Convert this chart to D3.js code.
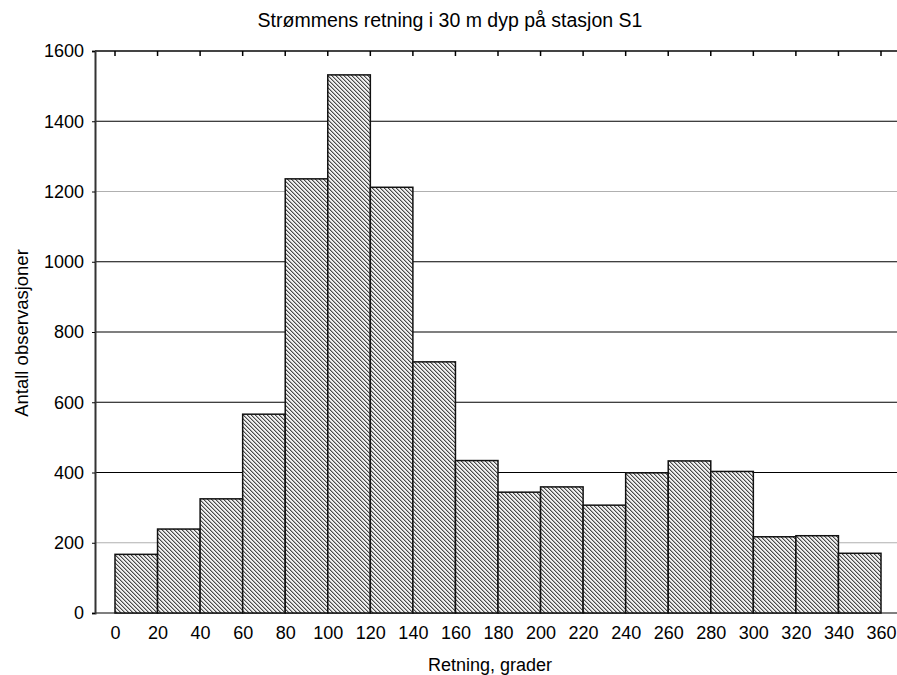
<!DOCTYPE html>
<html>
<head>
<meta charset="utf-8">
<script src="https://cdn.jsdelivr.net/npm/d3@7"></script>
<style>
  html, body { margin: 0; padding: 0; background: #fff; }
  svg { display: block; font-family: "Liberation Sans", Arial, sans-serif; }
</style>
</head>
<body>
<svg id="chart" width="897" height="675"></svg>
<script>
// Direction bins (degrees) and observation counts per 20° bin
const binStarts = [0, 20, 40, 60, 80, 100, 120, 140, 160, 180, 200, 220, 240, 260, 280, 300, 320, 340];
const counts = [167, 239, 325, 566, 1236, 1532, 1212, 715, 434, 344, 359, 307, 399, 433, 403, 217, 220, 170];
const binWidth = 20;
const xTicks = d3.range(0, 361, 20);
const yTicks = [0, 200, 400, 600, 800, 1000, 1200, 1400, 1600];
const lightGrid = [200, 1200];

const titleText = "Strømmens retning i 30 m dyp på stasjon S1";
const xLabel = "Retning, grader";
const yLabel = "Antall observasjoner";

const svg = d3.select("#chart");
const frame = { left: 95, right: 897, top: 51, bottom: 613 };
const fontFamily = "Liberation Sans, Arial, sans-serif";

const x = d3.scaleLinear().domain([0, 360]).range([115, 881]);
const y = d3.scaleLinear().domain([0, 1600]).range([frame.bottom, frame.top]);

// Fine diagonal hatch fill for the bars
const defs = svg.append("defs");
const pat = defs.append("pattern")
  .attr("id", "hatch")
  .attr("patternUnits", "userSpaceOnUse")
  .attr("width", 4).attr("height", 4);
pat.append("rect").attr("width", 4).attr("height", 4).attr("fill", "#f0f0f0");
for (let i = 0; i < 4; i++) {
  pat.append("rect").attr("x", i).attr("y", i).attr("width", 1).attr("height", 1).attr("fill", "#4a4a4a");
  pat.append("rect").attr("x", (i + 1) % 4).attr("y", i).attr("width", 1).attr("height", 1).attr("fill", "#ababab");
}

// Horizontal grid lines
svg.append("g")
  .selectAll("line")
  .data(yTicks.filter(v => v > 0 && v < 1600))
  .join("line")
  .attr("x1", frame.left).attr("x2", frame.right)
  .attr("y1", d => y(d)).attr("y2", d => y(d))
  .attr("stroke", d => lightGrid.includes(d) ? "#b0b0b0" : "#000")
  .attr("stroke-width", 1.2);

// Bottom and top frame lines
svg.append("line")
  .attr("x1", frame.left).attr("x2", frame.right)
  .attr("y1", frame.bottom).attr("y2", frame.bottom)
  .attr("stroke", "#555").attr("stroke-width", 1.5);
svg.append("line")
  .attr("x1", frame.left).attr("x2", frame.right)
  .attr("y1", frame.top).attr("y2", frame.top)
  .attr("stroke", "#444").attr("stroke-width", 2);

// Inward ticks along the top edge
svg.append("g")
  .selectAll("line")
  .data(xTicks)
  .join("line")
  .attr("x1", d => x(d)).attr("x2", d => x(d))
  .attr("y1", frame.top).attr("y2", frame.top + 5)
  .attr("stroke", "#000").attr("stroke-width", 1.5);

// Bars
svg.append("g")
  .selectAll("rect")
  .data(binStarts.map((s, i) => ({ s, v: counts[i] })))
  .join("rect")
  .attr("x", d => x(d.s))
  .attr("width", d => x(d.s + binWidth) - x(d.s))
  .attr("y", d => y(d.v))
  .attr("height", d => y(0) - y(d.v))
  .attr("fill", "url(#hatch)")
  .attr("stroke", "#111")
  .attr("stroke-width", 1.5);

// Left axis
const yAxis = d3.axisLeft(y).tickValues(yTicks).tickFormat(d3.format("d")).tickSize(3).tickPadding(8);
const gy = svg.append("g")
  .attr("transform", `translate(${frame.left},0)`)
  .call(yAxis);
gy.select(".domain").attr("stroke", "#333").attr("stroke-width", 2);
gy.selectAll(".tick line").attr("stroke", "#000");
gy.selectAll(".tick text")
  .attr("font-size", 18).attr("fill", "#000")
  .attr("font-family", fontFamily);

// Bottom axis labels
const xAxis = d3.axisBottom(x).tickValues(xTicks).tickSize(0).tickPadding(13);
const gx = svg.append("g")
  .attr("transform", `translate(0,${frame.bottom})`)
  .call(xAxis);
gx.select(".domain").remove();
gx.selectAll(".tick text")
  .attr("font-size", 18).attr("fill", "#000")
  .attr("font-family", fontFamily);

// Title and axis titles
svg.append("text")
  .attr("x", 450).attr("y", 27)
  .attr("text-anchor", "middle")
  .attr("font-size", 19.5)
  .attr("font-family", fontFamily)
  .text(titleText);

svg.append("text")
  .attr("x", 490).attr("y", 671)
  .attr("text-anchor", "middle")
  .attr("font-size", 18)
  .attr("font-family", fontFamily)
  .text(xLabel);

svg.append("text")
  .attr("transform", `translate(28,333) rotate(-90)`)
  .attr("text-anchor", "middle")
  .attr("font-size", 18.5)
  .attr("font-family", fontFamily)
  .text(yLabel);
</script>
</body>
</html>
